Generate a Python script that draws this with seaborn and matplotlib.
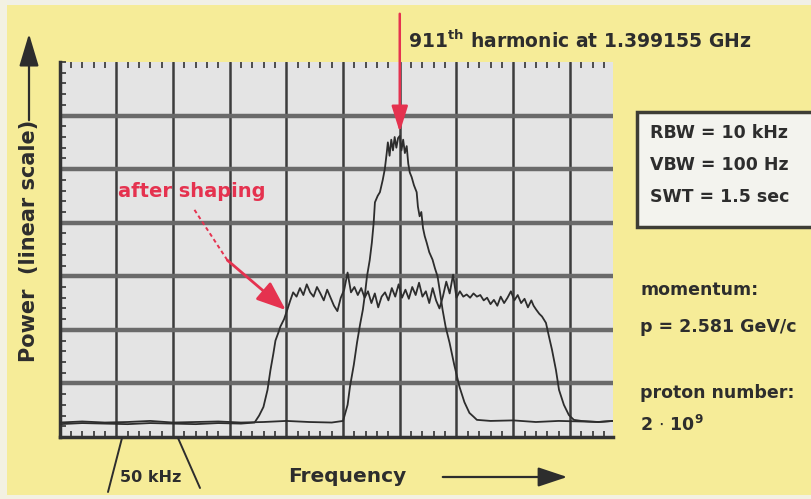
import numpy as np
import pandas as pd
import matplotlib
matplotlib.use("Agg")
import matplotlib.pyplot as plt
import seaborn as sns
from matplotlib.patches import Rectangle, FancyArrowPatch
from matplotlib.lines import Line2D

# ---------------- data (frequency offset in kHz, power in screen divisions) -------------
before_x = [-300, -280, -260, -240, -220, -200, -180, -160, -140, -120, -100, -80, -60,
            -50, -46, -43.9, -40.5, -37.7, -35, -32.5, -30.5, -28.9, -26.5, -24.6, -23,
            -21.9, -19.5, -17.5, -15, -13.2, -11.5, -10.5, -9, -7.5, -6, -4.5, -3, -1.5, 0,
            1.5, 3, 4.5, 6.1, 7.5, 8.8, 10.5, 12.5, 14.9, 16, 17.5, 19, 20.5, 22, 23.7, 26,
            28.9, 31, 33.3, 35.5, 37.7, 40.5, 43.9, 48, 52.6, 57, 61.4, 65, 68,
            80, 100, 120, 140, 160, 175, 188]
before_y = [0.27, 0.29, 0.27, 0.28, 0.30, 0.27, 0.28, 0.29, 0.27, 0.28, 0.30, 0.28, 0.27,
            0.30, 0.6, 0.94, 1.35, 1.76, 2.1, 2.38, 2.7, 3.0, 3.3, 3.63, 4.0,
            4.38, 4.5, 4.57, 4.8, 5.0, 5.3, 5.5, 5.25, 5.55, 5.35, 5.6, 5.4, 5.58, 5.62,
            5.35, 5.55, 5.3, 5.43, 5.1, 4.94, 4.85, 4.7, 4.57, 4.3, 4.12, 4.2, 3.9, 3.75, 3.63, 3.45,
            3.31, 3.15, 3.0, 2.7, 2.38, 2.05, 1.76, 1.35, 0.94, 0.65, 0.45, 0.38, 0.32,
            0.30, 0.31, 0.28, 0.30, 0.29, 0.28, 0.30]

shaped_left_x = [-300, -280, -260, -240, -220, -200, -180, -160, -140, -128,
                 -124, -120.2, -116.6, -114, -111.5, -109.6, -107, -105.3, -102, -99.1, -96.5]
shaped_left_y = [0.24, 0.26, 0.25, 0.24, 0.26, 0.25, 0.24, 0.26, 0.25, 0.27,
                 0.40, 0.56, 0.88, 1.25, 1.55, 1.80, 1.95, 2.06, 2.20, 2.38, 2.55]
shaped_top_x = [-94, -91, -88, -85, -82, -79, -76, -73, -70, -67, -64, -61, -58, -55, -52,
                -49, -46, -43, -40, -37, -34, -31, -28, -25, -22, -19, -16, -13, -10, -7,
                -4, -1, 2, 5, 8, 11, 14, 17, 20, 23, 26, 29, 32, 35, 38, 41, 44, 47, 50,
                53, 56, 59, 62, 65, 68, 71, 74, 77, 80, 83, 86, 89, 92, 95, 98, 101, 104,
                107, 110, 113, 116, 118]
shaped_top_y = [2.70, 2.62, 2.78, 2.65, 2.85, 2.70, 2.62, 2.80, 2.68, 2.55,
                2.75, 2.60, 2.45, 2.35, 2.60, 2.75, 3.07, 2.70, 2.80, 2.65,
                2.78, 2.60, 2.72, 2.50, 2.68, 2.42, 2.62, 2.70, 2.55, 2.78,
                2.62, 2.85, 2.60, 2.75, 2.58, 2.80, 2.65, 2.88, 2.62, 2.72,
                2.50, 2.78, 2.55, 2.40, 2.62, 2.90, 2.68, 3.03, 2.60, 2.72,
                2.62, 2.66, 2.60, 2.68, 2.62, 2.65, 2.55, 2.60, 2.48, 2.56,
                2.45, 2.62, 2.50, 2.60, 2.72, 2.55, 2.65, 2.50, 2.58, 2.42,
                2.55, 2.45]
shaped_right_x = [120.2, 123, 125.4, 128.9, 131.6, 134.2, 137.7, 140.4, 144.7, 149.1,
                  153.5, 160, 175, 188]
shaped_right_y = [2.38, 2.30, 2.25, 2.13, 1.87, 1.63, 1.25, 0.88, 0.60, 0.41,
                  0.32, 0.30, 0.28, 0.30]

grid_x = [-250, -200, -150, -100, -50, 0, 50, 100, 150]
grid_y = [1, 2, 3, 4, 5, 6]

title_text = r"911$^{\mathbf{th}}$ harmonic at 1.399155 GHz"
settings_lines = ["RBW = 10 kHz", "VBW = 100 Hz", "SWT = 1.5 sec"]
info_lines = ["momentum:", "p = 2.581 GeV/c", "proton number:", r"2 $\cdot$ 10$^{\mathbf{9}}$"]

# ---------------- styling ----------------
YELLOW = "#F6EC98"
SCREEN = "#E4E4E4"
INK = "#2d2d2d"
RED = "#E5324F"

sns.set_theme(style="white")
plt.rcParams['font.family'] = ['DejaVu Sans']
plt.rcParams['mathtext.fontset'] = 'dejavusans'

W, H = 811, 499
fig = plt.figure(figsize=(W / 100, H / 100), dpi=100)
fig.patch.set_facecolor(YELLOW)


def fx(px):
    return px / W


def fy(py):
    return 1 - py / H


# scan borders
fig.add_artist(Rectangle((0, fy(5)), 1, 5 / H, transform=fig.transFigure,
                         facecolor="#F1F0E6", edgecolor="none", zorder=0))
fig.add_artist(Rectangle((0, 0), 7 / W, 1, transform=fig.transFigure,
                         facecolor="#F3F1E2", edgecolor="none", zorder=0))
fig.add_artist(Rectangle((0, 0), 1, 4 / H, transform=fig.transFigure,
                         facecolor="#F3F1E2", edgecolor="none", zorder=0))

ax = fig.add_axes([fx(59.5), fy(437), fx(613) - fx(59.5), fy(62) - fy(437)])
ax.set_facecolor(SCREEN)

df = pd.concat([
    pd.DataFrame({"freq": before_x, "power": before_y, "trace": "before"}),
    pd.DataFrame({"freq": shaped_left_x + shaped_top_x + shaped_right_x,
                  "power": shaped_left_y + shaped_top_y + shaped_right_y,
                  "trace": "after"}),
], ignore_index=True)

sns.lineplot(data=df, x="freq", y="power", hue="trace",
             palette={"before": INK, "after": INK}, estimator=None, sort=False,
             legend=False, linewidth=1.3, ax=ax, zorder=5)

ax.set_xlim(-300, 188)
ax.set_ylim(0, 7)
ax.set_xlabel("")
ax.set_ylabel("")
ax.set_xticks(grid_x)
ax.set_yticks(grid_y)
ax.set_xticklabels([])
ax.set_yticklabels([])
ax.xaxis.grid(True, color="#3c3c3c", linewidth=1.8)
ax.yaxis.grid(True, color="#6a6a6a", linewidth=3.2)
ax.set_axisbelow(True)
ax.tick_params(which="major", length=0)
ax.set_xticks(np.arange(-300, 190, 10), minor=True)
ax.set_yticks(np.arange(0, 7.01, 0.2), minor=True)
ax.tick_params(axis="x", which="minor", direction="in", length=4.5, width=1.2,
               color="#333333", top=True, bottom=True)
ax.tick_params(axis="y", which="minor", direction="in", length=4, width=1.2,
               color="#333333", left=True, right=False)
for s in ["top", "right"]:
    ax.spines[s].set_visible(False)
for s in ["left", "bottom"]:
    ax.spines[s].set_color("#333333")
    ax.spines[s].set_linewidth(2.5)

# ---------------- annotations ----------------
ax.annotate("", xy=(0, 5.69), xytext=(0, 7.9), xycoords="data", annotation_clip=False,
            arrowprops=dict(arrowstyle="-|>,head_length=0.8,head_width=0.25",
                            color=RED, lw=1.8, mutation_scale=20, shrinkA=0, shrinkB=0),
            zorder=10)
ax.plot([-181, -152], [4.24, 3.30], color=RED, lw=1.4, linestyle=(0, (2, 1.6)), zorder=9)
ax.annotate("", xy=(-100.5, 2.37), xytext=(-152, 3.30), xycoords="data",
            arrowprops=dict(arrowstyle="-|>,head_length=0.9,head_width=0.35",
                            color=RED, lw=2.0, mutation_scale=20, shrinkA=0, shrinkB=0),
            zorder=10)

fig.text(fx(118), fy(192), "after shaping", color=RED, fontsize=14, fontweight="bold",
         ha="left", va="center")
fig.text(fx(408), fy(41), title_text, color=INK, fontsize=13.5, fontweight="bold",
         ha="left", va="center")

# settings box
fig.add_artist(Rectangle((fx(637), fy(227)), (830 - 637) / W, (227 - 112) / H,
                         transform=fig.transFigure, facecolor="#F3F3EE",
                         edgecolor="#3d3d35", linewidth=2.5, zorder=2))
for i, line in enumerate(settings_lines):
    fig.text(fx(650), fy(133 + 32 * i), line, color=INK, fontsize=12.5,
             fontweight="bold", ha="left", va="center", zorder=3)

info_y = [290, 327, 393, 425]
for yy, line in zip(info_y, info_lines):
    fig.text(fx(640), fy(yy), line, color=INK, fontsize=12.5, fontweight="bold",
             ha="left", va="center")

# axis captions
fig.text(fx(347), fy(477), "Frequency", color=INK, fontsize=14.5, fontweight="bold",
         ha="center", va="center")
fig.add_artist(FancyArrowPatch((fx(440), fy(477)), (fx(570), fy(477)),
                               transform=fig.transFigure,
                               arrowstyle="-|>,head_length=0.9,head_width=0.3",
                               mutation_scale=20, color=INK, lw=1.6))
fig.text(fx(29), fy(241), "Power  (linear scale)", color=INK, fontsize=15,
         fontweight="bold", rotation=90, ha="center", va="center")
fig.add_artist(FancyArrowPatch((fx(29), fy(123)), (fx(29), fy(31)),
                               transform=fig.transFigure,
                               arrowstyle="-|>,head_length=1.0,head_width=0.3",
                               mutation_scale=20, color=INK, lw=1.6))

# 50 kHz marker
fig.add_artist(Line2D([fx(122), fx(108)], [fy(438), fy(492)], transform=fig.transFigure,
                      color=INK, lw=1.4))
fig.add_artist(Line2D([fx(178), fx(200)], [fy(438), fy(488)], transform=fig.transFigure,
                      color=INK, lw=1.4))
fig.text(fx(151), fy(478), "50 kHz", color=INK, fontsize=11.5, fontweight="bold",
         ha="center", va="center")

fig.savefig("out.png", dpi=100, facecolor=fig.get_facecolor())
